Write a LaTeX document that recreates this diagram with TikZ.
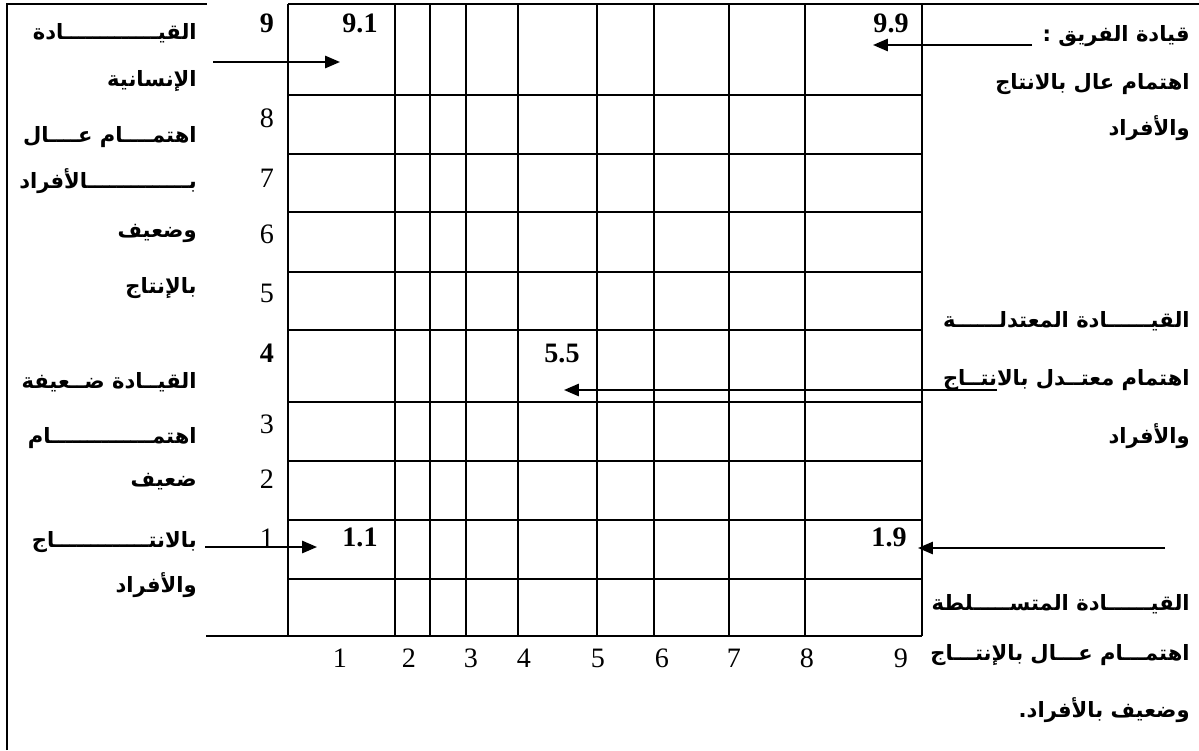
\documentclass[tikz,border=0pt]{standalone}
\usepackage{fontspec}
\setmainfont{Liberation Serif}
\newfontfamily\arabicfont[Script=Arabic]{DejaVu Sans}
\TeXXeTstate=1
\usetikzlibrary{arrows.meta}

\newcommand{\artxt}[1]{\arabicfont\bfseries\beginR #1\endR}

\begin{document}
\begin{tikzpicture}[x=0.02cm, y=-0.02cm,
    frame/.style={line width=1.1pt},
    grid/.style={line width=1.1pt},
    pointer/.style={line width=1.1pt, -{Triangle[length=8.5pt, width=7pt]}},
    tick/.style={font=\fontsize{16}{18}\selectfont, inner sep=0pt, anchor=base},
    val/.style={font=\fontsize{16}{18}\selectfont\bfseries, inner sep=0pt, anchor=base},
    lbl/.style={font=\fontsize{12}{14}\selectfont, inner sep=0pt, anchor=base east}]
  \useasboundingbox (0,0) rectangle (1199,750);
  % frame of the page
  \draw[frame] (7,750) -- (7,4) -- (207,4);
  \draw[frame] (288,4) -- (1199,4);
  % grid
  \foreach \yy in {95,154,212,272,330,402,461,520,579}
    \draw[grid] (288,\yy) -- (922,\yy);
  \foreach \xx in {288,395,430,466,518,597,654,729,805,922}
    \draw[grid] (\xx,4) -- (\xx,636);
  \draw[grid] (206,636) -- (922,636);
  % scale on the left
  \node[tick, font=\fontsize{16}{18}\selectfont\bfseries] (y9) at (267,33) {9};
  \node[tick] (y8) at (267,128) {8};
  \node[tick] (y7) at (267,187) {7};
  \node[tick] (y6) at (267,243) {6};
  \node[tick] (y5) at (267,302) {5};
  \node[tick, font=\fontsize{16}{18}\selectfont\bfseries] (y4) at (267,362) {4};
  \node[tick] (y3) at (267,433) {3};
  \node[tick] (y2) at (267,488) {2};
  \node[tick] (y1) at (267,547) {1};
  % scale at the bottom
  \foreach \n/\xx in {1/340,2/409,3/471,4/524,5/598,6/662,7/734,8/807,9/901}
    \node[tick] (x\n) at (\xx,667) {\n};
  % values in the grid
  \node[val] (v91) at (360,33) {9.1};
  \node[val] (v99) at (891,33) {9.9};
  \node[val] (v55) at (562,362) {5.5};
  \node[val] (v11) at (360,546) {1.1};
  \node[val] (v19) at (889,546) {1.9};
  % left column
  \node[lbl] (l1) at (197,40) {\artxt{القيـــــــــــــادة}};
  \node[lbl] (l2) at (197,87) {\artxt{الإنسانية}};
  \node[lbl] (l3) at (197,142) {\artxt{اهتمــــام عــــال}};
  \node[lbl] (l4) at (197,188) {\artxt{بــــــــــــــالأفراد}};
  \node[lbl] (l5) at (197,237) {\artxt{وضعيف}};
  \node[lbl] (l6) at (197,293) {\artxt{بالإنتاج}};
  \node[lbl] (l7) at (197,388) {\artxt{القيــادة ضــعيفة}};
  \node[lbl] (l8) at (197,443) {\artxt{اهتمــــــــــــــام}};
  \node[lbl] (l9) at (197,486) {\artxt{ضعيف}};
  \node[lbl] (l10) at (197,547) {\artxt{بالانتـــــــــــــاج}};
  \node[lbl] (l11) at (197,592) {\artxt{والأفراد}};
  % right column
  \node[lbl] (r1) at (1190,42) {\artxt{قيادة الفريق :}};
  \node[lbl] (r2) at (1190,90) {\artxt{اهتمام عال بالانتاج}};
  \node[lbl] (r3) at (1190,135) {\artxt{والأفراد}};
  \node[lbl] (r4) at (1190,327) {\artxt{القيــــــادة المعتدلــــــة}};
  \node[lbl] (r5) at (1190,385) {\artxt{اهتمام معتــدل بالانتــاج}};
  \node[lbl] (r6) at (1190,443) {\artxt{والأفراد}};
  \node[lbl] (r7) at (1190,610) {\artxt{القيــــــادة المتســـــلطة}};
  \node[lbl] (r8) at (1190,660) {\artxt{اهتمـــام عـــال بالإنتـــاج}};
  \node[lbl] (r9) at (1190,717) {\artxt{وضعيف بالأفراد.}};
  % pointers
  \coordinate (p1a) at (213,62);  \coordinate (p1b) at (340,62);
  \coordinate (p2a) at (1032,45); \coordinate (p2b) at (873,45);
  \coordinate (p3a) at (997,390); \coordinate (p3b) at (564,390);
  \coordinate (p4a) at (205,547); \coordinate (p4b) at (317,547);
  \coordinate (p5a) at (1165,548); \coordinate (p5b) at (918,548);
  \draw[pointer] (p1a) -- (p1b);
  \draw[pointer] (p2a) -- (p2b);
  \draw[pointer] (p3a) -- (p3b);
  \draw[pointer] (p4a) -- (p4b);
  \draw[pointer] (p5a) -- (p5b);
\end{tikzpicture}
\end{document}
